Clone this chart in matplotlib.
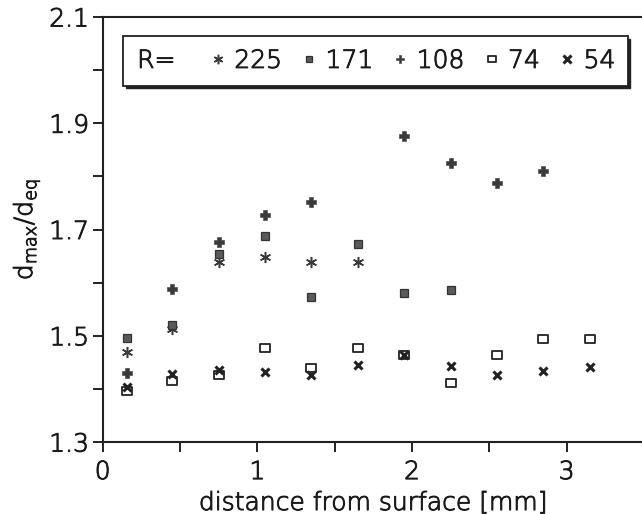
import matplotlib
matplotlib.use("Agg")
import matplotlib.pyplot as plt
import matplotlib.patheffects as pe
from matplotlib.patches import Rectangle
from matplotlib.lines import Line2D
from matplotlib.path import Path
from matplotlib.ticker import MultipleLocator, FuncFormatter

plt.rcParams['font.family'] = ['DejaVu Sans']
plt.rcParams['font.weight'] = 'light'
plt.rcParams['axes.labelweight'] = 'light'

# ---- data ----
x_all = [0.16, 0.45, 0.75, 1.05, 1.35, 1.65, 1.95, 2.25, 2.55, 2.85, 3.15]

x_225 = [0.16, 0.45, 0.75, 1.05, 1.35, 1.65]
y_225 = [1.470, 1.513, 1.639, 1.648, 1.639, 1.639]

x_171 = [0.16, 0.45, 0.75, 1.05, 1.35, 1.65, 1.95, 2.25]
y_171 = [1.496, 1.520, 1.654, 1.688, 1.573, 1.673, 1.581, 1.586]

x_108 = [0.16, 0.45, 0.75, 1.05, 1.35, 1.95, 2.25, 2.55, 2.85]
y_108 = [1.430, 1.588, 1.677, 1.727, 1.752, 1.876, 1.825, 1.788, 1.810]

x_74 = x_all
y_74 = [1.396, 1.415, 1.426, 1.477, 1.440, 1.477, 1.464, 1.411, 1.464, 1.494, 1.494]

x_54 = x_all
y_54 = [1.404, 1.428, 1.436, 1.432, 1.426, 1.445, 1.464, 1.443, 1.426, 1.434, 1.441]

legend_labels = ["225", "171", "108", "74", "54"]
x_tick_labels = ["0", "1", "2", "3"]
y_tick_labels = ["1.3", "1.5", "1.7", "1.9", "2.1"]

# ---- figure ----
fig = plt.figure(figsize=(6.42, 5.14), dpi=100)
ax = fig.add_axes([0.160, 0.140, 0.843, 0.827])

txt = '#1a1a1a'
dark = '#3a3a3a'
thick = [pe.withStroke(linewidth=0.7, foreground=txt)]
rect = Path([(-1.2, -0.9), (1.2, -0.9), (1.2, 0.9), (-1.2, 0.9), (-1.2, -0.9)],
            [Path.MOVETO, Path.LINETO, Path.LINETO, Path.LINETO, Path.CLOSEPOLY])
styles = [
    dict(marker=(6, 2, 0), ms=8, mew=1.1, mec=dark, mfc=dark, ls='none'),
    dict(marker='s', ms=5.6, mew=0.9, mec='#333333', mfc='#5a5a5a', ls='none'),
    dict(marker='P', ms=7.5, mew=0.4, mec=dark, mfc=dark, ls='none'),
    dict(marker=rect, ms=7, mew=1.3, mec='#222222', mfc='white', ls='none'),
    dict(marker='x', ms=6, mew=2.2, mec='#222222', ls='none'),
]
series = [(x_225, y_225), (x_171, y_171), (x_108, y_108), (x_74, y_74), (x_54, y_54)]
handles = []
for (xs, ys), st, lab in zip(series, styles, legend_labels):
    ax.plot(xs, ys, **st, zorder=3)
    handles.append(Line2D([], [], **{**st, 'ms': st['ms'] * 0.85}, label=lab))

ax.set_xlim(0, 3.5)
ax.set_ylim(1.3, 2.1)
ax.xaxis.set_major_locator(MultipleLocator(0.5))
ax.xaxis.set_major_formatter(FuncFormatter(
    lambda v, p: x_tick_labels[int(round(v))] if abs(v - round(v)) < 1e-6 and int(round(v)) < len(x_tick_labels) else ''))
ax.yaxis.set_major_locator(MultipleLocator(0.1))
ax.yaxis.set_major_formatter(FuncFormatter(
    lambda v, p: y_tick_labels[int(round((v - 1.3) / 0.2))] if abs(((v - 1.3) / 0.2) - round((v - 1.3) / 0.2)) < 1e-6 else ''))

for s in ax.spines.values():
    s.set_linewidth(1.5)
    s.set_color('#222222')
ax.tick_params(direction='out', length=7, width=1.4, labelsize=18, colors='#222222',
               labelcolor=txt, pad=3)
ax.tick_params(axis='x', pad=6)

ax.set_xlabel('distance from surface [mm]', fontsize=18, color=txt, labelpad=5,
              fontweight='light', path_effects=thick)
ax.set_ylabel(r'd$_{\mathregular{max}}$/d$_{\mathregular{eq}}$', fontsize=18, color=txt,
              labelpad=5, fontweight='light', path_effects=thick)

# legend box with shadow
bx0, by0, bw, bh = 0.1916, 0.833, 0.786, 0.097
shadow = Rectangle((bx0 + 0.004, by0 - 0.005), bw, bh, transform=fig.transFigure,
                   facecolor='#222222', edgecolor='#222222', zorder=4)
box = Rectangle((bx0, by0), bw, bh, transform=fig.transFigure,
                facecolor='white', edgecolor='#222222', lw=1.3, zorder=5)
fig.patches.extend([shadow, box])
fig.text(bx0 + 0.022, by0 + bh / 2, 'R=', fontsize=18, color=txt,
         va='center', ha='left', zorder=6, fontweight='light', path_effects=thick)
leg = fig.legend(handles=handles, loc='center left', ncol=5, frameon=False,
                 bbox_to_anchor=(bx0 + 0.115, by0 + bh / 2),
                 prop={'size': 18, 'weight': 'light'},
                 handlelength=0.7, handletextpad=0.3, columnspacing=0.75,
                 borderpad=0, labelcolor=txt)
leg.set_zorder(7)
for t in leg.get_texts():
    t.set_path_effects(thick)

fig.canvas.draw()
for lbl in ax.get_xticklabels() + ax.get_yticklabels():
    lbl.set_path_effects(thick)

fig.savefig('out.png', dpi=100)
